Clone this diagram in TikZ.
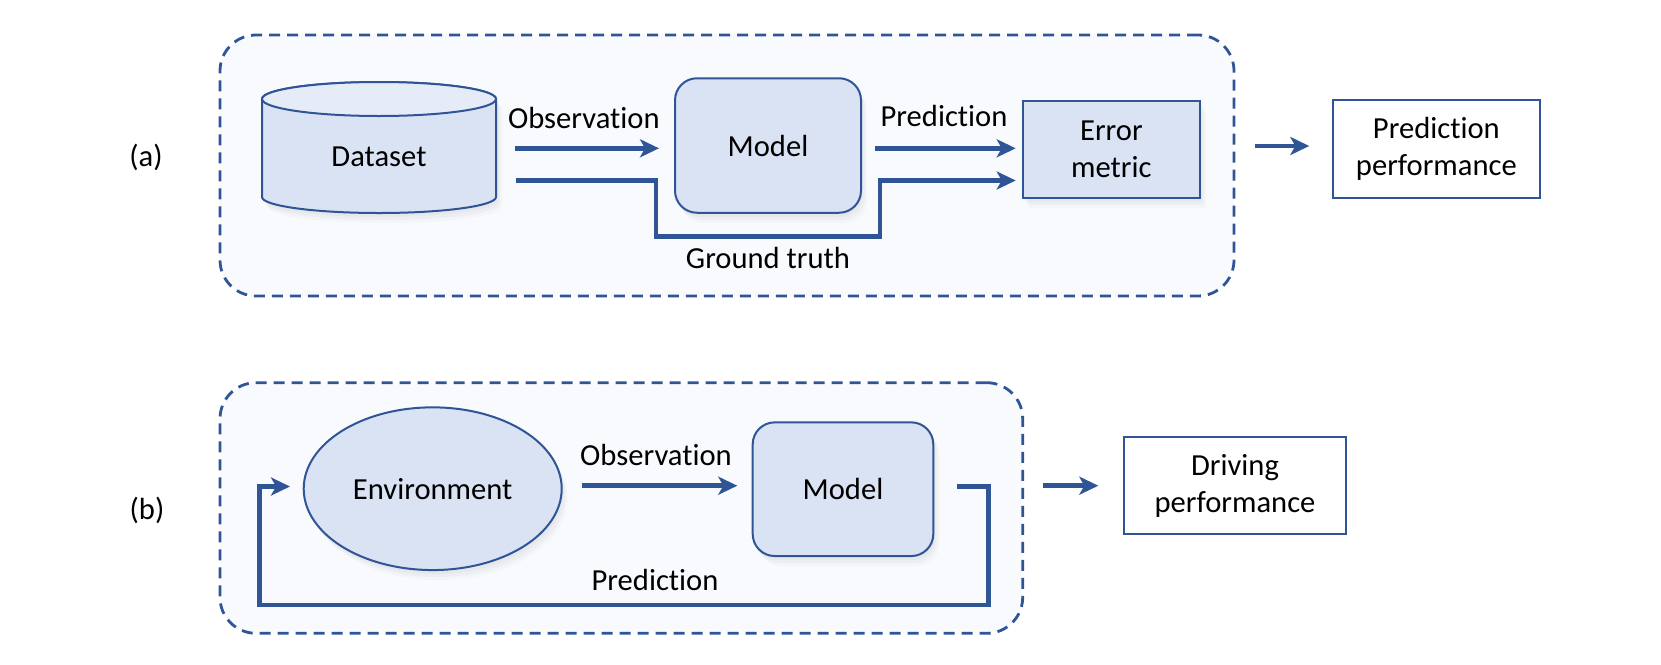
\documentclass[tikz,border=0pt]{standalone}
\usepackage{fontspec}
\setmainfont{Carlito}[Ligatures=NoCommon]
\usetikzlibrary{arrows.meta,shadows,shapes.geometric,calc}
\definecolor{bl}{HTML}{2F5597}
\definecolor{nf}{HTML}{DAE3F3}
\definecolor{nftop}{HTML}{E6ECF7}
\definecolor{pf}{HTML}{F8FAFE}
\begin{document}
\begin{tikzpicture}[x=1pt,y=-1pt,
  every node/.style={font=\fontsize{30.6}{36.6}\selectfont, inner sep=0pt, outer sep=0pt},
  arr/.style={draw=bl, line width=4.8pt, -{Stealth[length=19pt,width=18pt,inset=5pt]}},
  panel/.style={draw=bl, line width=2.8pt, dash pattern=on 11pt off 7pt, fill=pf, rounded corners=36pt},
  softshadow/.style={
    drop shadow={opacity=0.05, shadow xshift=2pt, shadow yshift=-4pt},
    drop shadow={opacity=0.05, shadow xshift=4pt, shadow yshift=-7pt},
    drop shadow={opacity=0.04, shadow xshift=6pt, shadow yshift=-10pt}},
  blockbox/.style={draw=bl, line width=2pt, fill=nf, softshadow},
  outbox/.style={draw=bl, line width=2pt, fill=white, align=center},
  lbl/.style={anchor=base}
]
\useasboundingbox (0,0) rectangle (1661,664);

% panels
\node[panel, minimum width=1014pt, minimum height=261pt] (boxa) at (727,165.5) {};
\node[panel, minimum width=802.7pt, minimum height=250.6pt] (boxb) at (621.35,508) {};

% panel labels
\node[lbl] (la) at (146,166.7) {(a)};
\node[lbl] (lb) at (147,519.3) {(b)};

% ---------- panel (a) ----------
% dataset cylinder
\path[draw=bl, line width=2pt, fill=nf, softshadow]
  (262,99) -- (262,197) arc[start angle=180, end angle=0, x radius=117, y radius=16]
  -- (496,99) arc[start angle=0, end angle=-180, x radius=117, y radius=17] -- cycle;
\path[draw=bl, line width=2pt, fill=nftop] (379,99) ellipse[x radius=117, y radius=17];
\node[minimum width=234pt, minimum height=131pt] (ds) at (379,147.5) {};
\node[lbl] (dstext) at (379,166.7) {Dataset};

\node[blockbox, rounded corners=22pt, minimum width=186pt, minimum height=134.5pt] (model) at (768,145.5) {Model};
\node[blockbox, minimum width=177.3pt, minimum height=97.6pt, align=center] (em) at (1111.35,149.5) {Error\\metric};
\node[outbox, minimum width=207.3pt, minimum height=97.4pt] (pp) at (1436.35,149) {Prediction\\performance};

\coordinate (yo) at (0,148.3);
\coordinate (yg) at (0,180.5);
\coordinate (gtL) at (656,236.7);
\coordinate (gtR) at (880,236.7);
\coordinate (yout) at (0,146);

\draw[arr, shorten <=19pt, shorten >=16pt] (ds.east |- yo) -- (model.west |- yo);
\draw[arr, shorten <=14pt, shorten >=7pt] (model.east |- yo) -- (em.west |- yo);
\draw[arr, shorten <=20pt, shorten >=7pt] (ds.east |- yg) -| (gtL) -- (gtR) |- (em.west |- yg);
\draw[arr, shorten <=21pt, shorten >=23.4pt] (boxa.east |- yout) -- (pp.west |- yout);

\node[lbl] (tobsa) at (583.8,128.3) {Observation};
\node[lbl] (tpreda) at (944,126) {Prediction};
\node[lbl] (tgt) at (768,268.3) {Ground truth};

% ---------- panel (b) ----------
\node[blockbox, ellipse, minimum width=258pt, minimum height=162.7pt] (env) at (432.7,488.7) {Environment};
\node[blockbox, rounded corners=22pt, minimum width=180.6pt, minimum height=133.7pt] (modelb) at (843,489.2) {Model};
\node[outbox, minimum width=222pt, minimum height=97pt] (drv) at (1235,485.8) {Driving\\performance};

\coordinate (yb) at (0,485.7);
\coordinate (yl) at (0,486.5);
\coordinate (lpR) at (988.3,605);
\coordinate (lpL) at (259.3,605);

\draw[arr, shorten <=20pt, shorten >=15.4pt] (env.east |- yb) -- (modelb.west |- yb);
\draw[arr, shorten <=23.4pt, shorten >=13.7pt] (modelb.east |- yl) -| (lpR) -- (lpL) |- (env.west |- yl);
\draw[arr, shorten <=20.6pt, shorten >=25.7pt] (boxb.east |- yb) -- (drv.west |- yb);

\node[lbl] (tobsb) at (656,465.7) {Observation};
\node[lbl] (tpredb) at (655,590) {Prediction};
\end{tikzpicture}
\end{document}
